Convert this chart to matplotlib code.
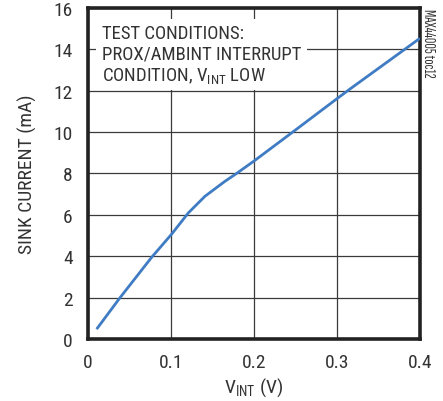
import matplotlib.pyplot as plt

plt.rcParams['font.family'] = ['Roboto Condensed', 'DejaVu Sans']
plt.rcParams['mathtext.fontset'] = 'custom'
plt.rcParams['mathtext.rm'] = 'Roboto Condensed'
plt.rcParams['mathtext.it'] = 'Roboto Condensed'

# sink current vs V_INT
v_int = [0.0104, 0.0386, 0.0767, 0.1008, 0.121, 0.141, 0.165, 0.179, 0.200, 0.249, 0.2996, 0.3157, 0.400]
sink_ma = [0.48, 2.0, 3.95, 5.07, 6.1, 6.9, 7.62, 8.0, 8.6, 10.07, 11.6, 12.08, 14.53]

x_ticks = [0, 0.1, 0.2, 0.3, 0.4]
x_labels = ['0', '0.1', '0.2', '0.3', '0.4']
y_ticks = [0, 2, 4, 6, 8, 10, 12, 14, 16]

fig = plt.figure(figsize=(4.43, 4.02), dpi=100)
ax = fig.add_axes([0.1986, 0.154, 0.7494, 0.824])

ax.plot(v_int, sink_ma, color='#3f7cc4', linewidth=2.0, zorder=3, solid_capstyle='butt')

ax.set_xlim(0, 0.4)
ax.set_ylim(0, 16)
ax.set_xticks(x_ticks)
ax.set_xticklabels(x_labels)
ax.set_yticks(y_ticks)
ax.grid(True, color='#3a3a3a', linewidth=0.9)
ax.tick_params(length=0, labelsize=14, colors='#333333')
ax.tick_params(axis='y', pad=11)
ax.tick_params(axis='x', pad=10)
for sp in ax.spines.values():
    sp.set_linewidth(2.6)
    sp.set_color('#222222')

ax.set_xlabel('V$_{\\mathregular{INT}}$ (V)', fontsize=14, color='#333333', labelpad=3)
ax.set_ylabel('SINK CURRENT (mA)', fontsize=14, color='#333333', labelpad=12)

ax.text(0.042, 0.952,
        'TEST CONDITIONS:\nPROX/AMBINT INTERRUPT\nCONDITION, V$_{\\mathregular{INT}}$ LOW',
        transform=ax.transAxes, fontsize=13.5, color='#333333', va='top', ha='left',
        linespacing=1.17, zorder=4,
        bbox=dict(facecolor='white', edgecolor='none', pad=4))

fig.text(0.966, 0.977, 'MAX44005 toc12', rotation=270, fontsize=10.8,
         family=['Sofia Sans Extra Condensed', 'DejaVu Sans'],
         color='#333333', va='top', ha='center')

fig.savefig('out.png', dpi=100)
